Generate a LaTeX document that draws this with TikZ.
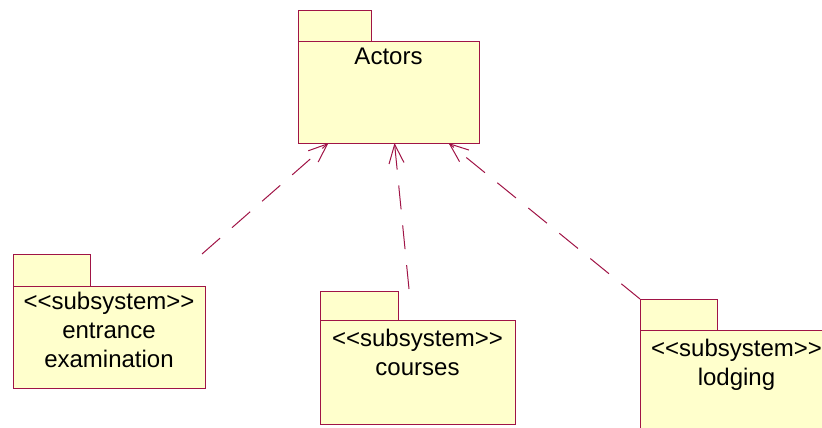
\documentclass[tikz,border=0pt]{standalone}
\usepackage{fontspec}
\setmainfont{Liberation Sans}
\usetikzlibrary{arrows.meta}
\definecolor{pkgline}{RGB}{160,20,70}
\definecolor{pkgfill}{RGB}{255,255,204}
\newcommand{\stereo}[1]{<{}<#1>{}>}

\begin{document}
\begin{tikzpicture}[x=1pt,y=-1pt,
    pkg/.style={draw=pkgline,fill=pkgfill,line width=1pt,anchor=north west,inner sep=0pt,outer sep=0pt},
    pkgtext/.style={anchor=north,align=center,inner sep=6pt,font=\fontsize{24}{29}\selectfont},
    dep/.style={draw=pkgline,line width=1pt,dash pattern=on 24pt off 16pt,-{Straight Barb[length=19pt,width=15pt]}}]
    \useasboundingbox (0,0) rectangle (822,428);

    % packages
    \node[pkg,minimum width=181pt,minimum height=101pt,
        label={[pkgtext]north:Actors}] (actors) at (298,42) {};
    \node[pkg,minimum width=192pt,minimum height=102pt,
        label={[pkgtext]north:{\stereo{subsystem}\\entrance\\examination}}] (entrance) at (13,286) {};
    \node[pkg,minimum width=195pt,minimum height=104pt,
        label={[pkgtext,yshift=-3pt]north:{\stereo{subsystem}\\courses}}] (courses) at (320,320) {};
    \node[pkg,minimum width=193pt,minimum height=104pt,
        label={[pkgtext,yshift=-3pt]north:{\stereo{subsystem}\\lodging}}] (lodging) at (640,330) {};

    % tabs
    \foreach \p/\w/\h in {actors/73/31,entrance/77/32,courses/78/29,lodging/77/31}
        \draw[pkg] (\p.north west) rectangle ++(\w,-\h);

    % dependencies
    \coordinate (entrance end) at (202,254);
    \coordinate (courses end) at (409,289);
    \coordinate (lodging end) at (lodging.north west |- 0,299);
    \draw[dep] (entrance end) -- ([xshift=-60pt]actors.south);
    \draw[dep] (courses end) -- ([xshift=6pt]actors.south);
    \draw[dep] (lodging end) -- ([xshift=60pt]actors.south);
\end{tikzpicture}
\end{document}
